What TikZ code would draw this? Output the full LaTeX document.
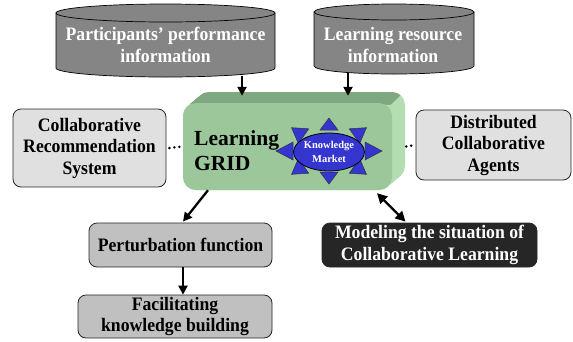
\documentclass[tikz,border=0pt]{standalone}
\usepackage{fontspec}
\setmainfont{Liberation Serif}
\newfontfamily\boxfam[FakeStretch=0.93]{Liberation Serif}
\usetikzlibrary{arrows.meta,calc,shapes.geometric}
\definecolor{cylgray}{HTML}{858585}
\definecolor{boxlight}{HTML}{E0E0E0}
\definecolor{boxmid}{HTML}{C0C0C0}
\definecolor{boxdark}{HTML}{262626}
\definecolor{gfront}{HTML}{9BC79B}
\definecolor{gtop}{HTML}{80A880}
\definecolor{gside}{HTML}{B2DEB2}
\definecolor{starblue}{HTML}{3535D0}
\newcommand{\boxfont}{\boxfam\fontsize{19}{21.5}\selectfont\bfseries}
\begin{document}
\begin{tikzpicture}[x=1pt,y=-1pt,
  cyl/.style={fill=cylgray,draw=black,line width=0.7pt},
  cyltext/.style={text=white,font=\boxfont,align=center,inner sep=0pt},
  lbox/.style={draw=black!85,line width=0.8pt,rounded corners=8pt,fill=boxlight,align=center,font=\boxfont,inner sep=0pt},
  mbox/.style={lbox,fill=boxmid},
  dbox/.style={lbox,fill=boxdark,text=white},
  arr/.style={line width=2.3pt,-{Triangle[length=9pt,width=9pt]}},
  darr/.style={line width=2.3pt,{Triangle[length=10pt,width=10pt]}-{Triangle[length=10pt,width=10pt]}},
  dots/.style={line width=2.8pt,line cap=round,dash pattern=on 0pt off 5pt}
]
\useasboundingbox (0,0) rectangle (573,341);

% cylinders
\filldraw[cyl] (56,13) -- (56,68) arc[start angle=180,end angle=0,x radius=109.5,y radius=9] -- (275,13) -- cycle;
\filldraw[cyl] (165.5,13) ellipse[x radius=109.5,y radius=9];
\node[cyltext] (cylA) at (165.5,45) {Participants’ performance\\information};
\filldraw[cyl] (314,12) -- (314,66) arc[start angle=180,end angle=0,x radius=80,y radius=8] -- (474,12) -- cycle;
\filldraw[cyl] (394,12) ellipse[x radius=80,y radius=8];
\node[cyltext] (cylB) at (393,45) {Learning resource\\information};

% green 3D box
\foreach \i in {0,...,13}{
  \fill[gside,rounded corners=13pt] ($(183,103)+(\i,-\i*11/13)$) rectangle ($(392,190)+(\i,-\i*11/13)$);
}
\begin{scope}
  \clip (170,104) -- (391,104) -- (405,91) -- (405,80) -- (170,80) -- cycle;
  \foreach \i in {0,...,13}{
    \fill[gtop,rounded corners=13pt] ($(183,103)+(\i,-\i*11/13)$) rectangle ($(392,190)+(\i,-\i*11/13)$);
  }
\end{scope}
\node[fill=gfront,rounded corners=13pt,minimum width=209pt,minimum height=87pt,inner sep=0pt] (grid) at (287.5,146.5) {};
\node[anchor=west,align=left,inner sep=0pt,font=\fontsize{21.5}{25}\selectfont\bfseries] (lg) at (194,151) {Learning\\GRID};

% star
\foreach \a in {0,45,...,315}{
  \coordinate (sb) at ($(329,151)+({36*cos(\a)},{21*sin(\a)})$);
  \coordinate (st) at ($(329,151)+({53*cos(\a)},{33*sin(\a)})$);
  \filldraw[fill=starblue,draw=black!80,line width=0.5pt] ($(sb)!9pt!90:(st)$) -- (st) -- ($(sb)!9pt!-90:(st)$) -- cycle;
}
\node[ellipse,fill=starblue,draw=black,line width=0.8pt,minimum width=62pt,minimum height=38pt,inner sep=0pt,text=white,font=\fontsize{10.5}{14}\selectfont\bfseries,align=center] (km) at (329,152) {Knowledge\\Market};

% side boxes
\node[lbox,minimum width=153pt,minimum height=78pt] (crs) at (89.5,148) {Collaborative\\Recommendation\\System};
\node[lbox,minimum width=155pt,minimum height=70pt] (dca) at (493.5,145) {Distributed\\Collaborative\\Agents};
\node[mbox,minimum width=183pt,minimum height=44pt] (pf) at (180.5,245) {Perturbation function};
\node[mbox,minimum width=194pt,minimum height=43pt] (fk) at (175,316.5) {Facilitating\\knowledge building};
\node[dbox,minimum width=215pt,minimum height=44pt] (mod) at (429.5,245) {Modeling the situation of\\Collaborative Learning};

% connectors
\coordinate (aA) at (242,76);
\coordinate (aB) at (348,72);
\draw[arr] (aA) -- ([yshift=7pt]aA |- grid.north);
\draw[arr] (aB) -- ([yshift=7pt]aB |- grid.north);
\draw[arr] ([xshift=-79.5pt]grid.south) -- ([xshift=2.5pt,yshift=1pt]pf.north);
\draw[arr] ([xshift=2.5pt]pf.south) -- ([xshift=8pt]fk.north);
\draw[darr] ([xshift=89.5pt,yshift=-3pt]grid.south) -- ([xshift=-24pt,yshift=1pt]mod.north);
\draw[dots] ([xshift=3pt]crs.east) -- (grid.west);
\draw[dots] ([xshift=14pt]grid.east) -- (dca.west);
\end{tikzpicture}
\end{document}
